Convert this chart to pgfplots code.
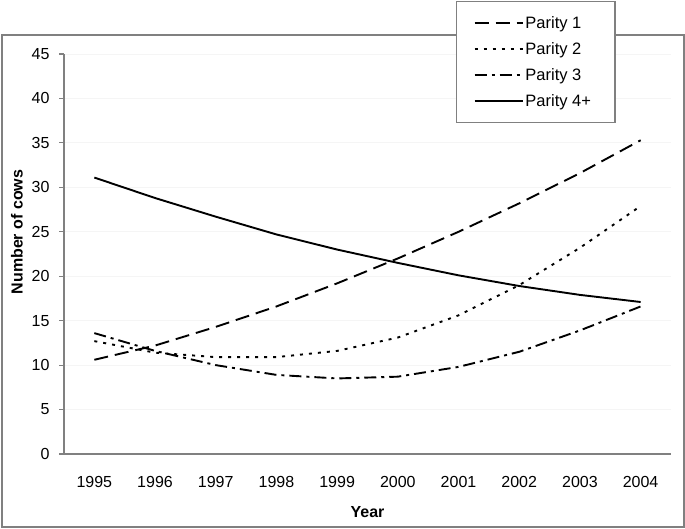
\documentclass[border=0pt]{standalone}
\usepackage{pgfplots}
\pgfplotsset{compat=1.18}
\usepackage{fontspec}
\setmainfont{Liberation Sans}
\definecolor{axgray}{RGB}{128,128,128}
\begin{document}
\begin{tikzpicture}
\path (0,0) rectangle (685bp,-529bp);
\draw[axgray, line width=1.3bp] (2bp,-35bp) rectangle (684bp,-527bp);
\begin{axis}[
  at={(64bp,-454bp)}, anchor=south west,
  scale only axis, width=607bp, height=400bp,
  xmin=1994.5, xmax=2004.5, ymin=0, ymax=45,
  axis x line*=bottom, axis y line*=left,
  axis line style={axgray, line width=1.3bp, -},
  xtick={1995,...,2004},
  xticklabels={1995,1996,1997,1998,1999,2000,2001,2002,2003,2004},
  minor xtick={1994.5,1995.5,...,2004.5},
  x tick style={draw=none},
  minor x tick style={axgray, line width=1.1bp},
  minor tick length=5bp,
  ytick={0,5,...,45},
  y tick style={axgray, line width=1.1bp},
  major tick length=5bp,
  tick align=outside,
  ymajorgrids, major grid style={gray!8, line width=0.8bp},
  /pgf/number format/assume math mode=true,
  tick label style={font=\fontsize{16bp}{19bp}\selectfont},
  xticklabel style={yshift=-14bp},
  yticklabel style={xshift=-6bp},
  xlabel={\textbf{Year}},
  ylabel={\textbf{Number of cows}},
  label style={font=\fontsize{16bp}{19bp}\selectfont},
  xlabel style={at={(axis description cs:0.5,-0.145)}, anchor=center},
  ylabel style={at={(axis description cs:-0.0774,0.555)}, anchor=center},
  legend style={at={(axis description cs:0.6458,1.1325)}, anchor=north west,
    draw=axgray, line width=1.1bp, fill=white,
    font=\fontsize{16.5bp}{19bp}\selectfont,
    inner xsep=17bp, inner ysep=13bp, row sep=8.5bp,
    /tikz/every even column/.append style={column sep=0bp}},
  legend cell align=left,
  legend image code/.code={\draw[#1] (0bp,0bp) -- (48bp,0bp);},
  every axis plot/.append style={black, line width=1.9bp},
]
\addplot[dash pattern=on 14bp off 7bp] coordinates {
(1995,10.6) (1996,12.2) (1997,14.3) (1998,16.6) (1999,19.2)
(2000,22.0) (2001,25.0) (2002,28.2) (2003,31.6) (2004,35.3)};
\addlegendentry{Parity 1}
\addplot[dash pattern=on 3bp off 6bp] coordinates {
(1995,12.7) (1996,11.4) (1997,10.9) (1998,10.9) (1999,11.6)
(2000,13.1) (2001,15.6) (2002,19.0) (2003,23.2) (2004,27.9)};
\addlegendentry{Parity 2}
\addplot[dash pattern=on 12bp off 5bp on 3bp off 5bp] coordinates {
(1995,13.6) (1996,11.6) (1997,10.0) (1998,8.9) (1999,8.5)
(2000,8.7) (2001,9.8) (2002,11.5) (2003,13.9) (2004,16.6)};
\addlegendentry{Parity 3}
\addplot[solid] coordinates {
(1995,31.1) (1996,28.8) (1997,26.7) (1998,24.7) (1999,23.0)
(2000,21.5) (2001,20.1) (2002,18.9) (2003,17.9) (2004,17.1)};
\addlegendentry{Parity 4+\hspace*{5bp}}
\end{axis}
\end{tikzpicture}
\end{document}
